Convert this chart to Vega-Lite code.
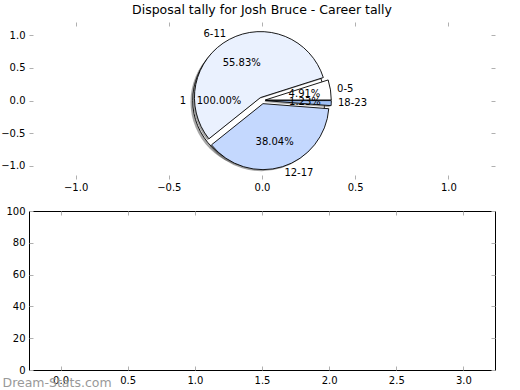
{
  "$schema": "https://vega.github.io/schema/vega-lite/v6.json",
  "padding": {"left": 0, "top": 4, "right": 0, "bottom": 0},
  "spacing": 12,
  "config": {
    "font": "DejaVu Sans",
    "view": {"stroke": null},
    "axis": {"labelFont": "DejaVu Sans", "labelFontSize": 10, "labelColor": "black", "tickColor": "#b0b0b0", "tickSize": -4, "tickWidth": 1, "domain": false, "grid": false}
  },
  "vconcat": [
    {
      "width": 466,
      "height": 157,
      "title": {"text": "Disposal tally for Josh Bruce - Career tally", "fontSize": 12.5, "fontWeight": "normal", "color": "black", "anchor": "middle", "frame": "group", "offset": 5},
      "data": {"values": [
        {"pie": "Career", "k": 1, "range": "0-5", "share": 0.0491},
        {"pie": "Career", "k": 2, "range": "6-11", "share": 0.5583},
        {"pie": "Career", "k": 3, "range": "12-17", "share": 0.3804},
        {"pie": "Career", "k": 4, "range": "18-23", "share": 0.0123},
        {"pie": "Total", "k": 1, "range": "1", "share": 1}
      ]},
      "layer": [
        {
          "transform": [{"filter": "datum.pie == 'Total'"}],
          "mark": {"type": "arc", "radius": 66, "fill": "#4d4d4d", "fillOpacity": 0.5, "xOffset": -5.5, "yOffset": 1.5},
          "encoding": {
            "theta": {"field": "share", "type": "quantitative", "stack": true, "scale": {"domain": [0, 1], "range": [1.5708, -4.7124]}},
            "x": {"datum": 0, "type": "quantitative", "scale": {"domain": [-1.25, 1.25], "nice": false, "zero": false}, "axis": null},
            "y": {"datum": 0, "type": "quantitative", "scale": {"domain": [-1.2, 1.2], "nice": false, "zero": false}, "axis": null}
          }
        },
        {
          "transform": [{"filter": "datum.pie == 'Total'"}],
          "mark": {"type": "arc", "radius": 66, "fill": "white", "stroke": "black", "strokeWidth": 0.9, "xOffset": -3.3},
          "encoding": {
            "theta": {"field": "share", "type": "quantitative", "stack": true},
            "x": {"datum": 0, "type": "quantitative", "axis": {"orient": "bottom", "values": [-1, -0.5, 0, 0.5, 1], "format": ".1f", "labelPadding": 7.5, "title": null}},
            "y": {"datum": 0, "type": "quantitative", "axis": {"orient": "left", "values": [-1, -0.5, 0, 0.5, 1], "format": ".1f", "labelPadding": 8, "title": null}}
          }
        },
        {
          "transform": [{"filter": "datum.pie == 'Career'"}],
          "mark": {"type": "arc", "radius": 66, "fill": "#4d4d4d", "fillOpacity": 0.5,
            "xOffset": {"expr": "3.3*cos(PI*(datum.share_start+datum.share_end)) - 1.5"},
            "yOffset": {"expr": "-3.3*sin(PI*(datum.share_start+datum.share_end)) + 1.5"}},
          "encoding": {
            "theta": {"field": "share", "type": "quantitative", "stack": true},
            "order": {"field": "k"},
            "x": {"datum": 0, "type": "quantitative", "axis": null},
            "y": {"datum": 0, "type": "quantitative", "axis": null}
          }
        },
        {
          "transform": [{"filter": "datum.pie == 'Career'"}],
          "mark": {"type": "arc", "radius": 66, "stroke": "black", "strokeWidth": 0.9,
            "xOffset": {"expr": "3.3*cos(PI*(datum.share_start+datum.share_end))"},
            "yOffset": {"expr": "-3.3*sin(PI*(datum.share_start+datum.share_end))"}},
          "encoding": {
            "theta": {"field": "share", "type": "quantitative", "stack": true},
            "order": {"field": "k"},
            "color": {"field": "range", "type": "nominal", "legend": null, "scale": {"domain": ["0-5", "6-11", "12-17", "18-23"], "range": ["#ffffff", "#eaf1fe", "#c4d8fe", "#9fc0f6"]}},
            "x": {"datum": 0, "type": "quantitative", "axis": null},
            "y": {"datum": 0, "type": "quantitative", "axis": null}
          }
        },
        {
          "transform": [{"filter": "datum.pie == 'Career'"}],
          "mark": {"type": "text", "radius": 76, "fontSize": 10, "color": "black", "baseline": "middle",
            "align": {"expr": "cos(PI*(datum.share_start+datum.share_end)) < 0 ? 'right' : 'left'"}},
          "encoding": {
            "theta": {"field": "share", "type": "quantitative", "stack": true},
            "order": {"field": "k"},
            "text": {"field": "range"},
            "x": {"datum": 0, "type": "quantitative", "axis": null},
            "y": {"datum": 0, "type": "quantitative", "axis": null}
          }
        },
        {
          "transform": [{"filter": "datum.pie == 'Career'"}],
          "mark": {"type": "text", "radius": 43, "fontSize": 10, "color": "black", "baseline": "middle", "align": "center"},
          "encoding": {
            "theta": {"field": "share", "type": "quantitative", "stack": true},
            "order": {"field": "k"},
            "text": {"field": "share", "format": ".2%"},
            "x": {"datum": 0, "type": "quantitative", "axis": null},
            "y": {"datum": 0, "type": "quantitative", "axis": null}
          }
        },
        {
          "transform": [{"filter": "datum.pie == 'Total'"}],
          "mark": {"type": "text", "radius": 76, "fontSize": 10, "color": "black", "baseline": "middle", "align": "right"},
          "encoding": {
            "theta": {"field": "share", "type": "quantitative", "stack": true},
            "text": {"field": "range"},
            "x": {"datum": 0, "type": "quantitative", "axis": null},
            "y": {"datum": 0, "type": "quantitative", "axis": null}
          }
        },
        {
          "transform": [{"filter": "datum.pie == 'Total'"}],
          "mark": {"type": "text", "radius": 43, "fontSize": 10, "color": "black", "baseline": "middle", "align": "center"},
          "encoding": {
            "theta": {"field": "share", "type": "quantitative", "stack": true},
            "text": {"field": "share", "format": ".2%"},
            "x": {"datum": 0, "type": "quantitative", "axis": {"orient": "top", "values": [-1, -0.5, 0, 0.5, 1], "labels": false, "title": null}},
            "y": {"datum": 0, "type": "quantitative", "axis": {"orient": "right", "values": [-1, -0.5, 0, 0.5, 1], "labels": false, "title": null}}
          }
        }
      ],
      "resolve": {"axis": {"x": "independent", "y": "independent"}}
    },
    {
      "width": 466,
      "height": 159,
      "view": {"stroke": "black", "strokeWidth": 1},
      "data": {"values": []},
      "layer": [
        {
          "mark": "point",
          "encoding": {
            "x": {"field": "x", "type": "quantitative", "scale": {"domain": [-0.235, 3.235], "nice": false, "zero": false},
              "axis": {"orient": "bottom", "values": [0, 0.5, 1, 1.5, 2, 2.5, 3], "format": ".1f", "labelPadding": 9,
                "title": "Dream-Stats.com", "titleX": -27, "titleY": 12, "titleAlign": "left", "titleBaseline": "middle", "titleColor": "#999999", "titleFontSize": 12.5, "titleFontWeight": "normal", "titleFont": "DejaVu Sans"}},
            "y": {"field": "y", "type": "quantitative", "scale": {"domain": [0, 100], "nice": false, "zero": false},
              "axis": {"orient": "left", "values": [0, 20, 40, 60, 80, 100], "labelPadding": 8, "title": null}}
          }
        },
        {
          "mark": "point",
          "encoding": {
            "x": {"field": "x", "type": "quantitative", "axis": {"orient": "top", "values": [0, 0.5, 1, 1.5, 2, 2.5, 3], "labels": false, "title": null}},
            "y": {"field": "y", "type": "quantitative", "axis": {"orient": "right", "values": [0, 20, 40, 60, 80, 100], "labels": false, "title": null}}
          }
        }
      ],
      "resolve": {"axis": {"x": "independent", "y": "independent"}}
    }
  ]
}
